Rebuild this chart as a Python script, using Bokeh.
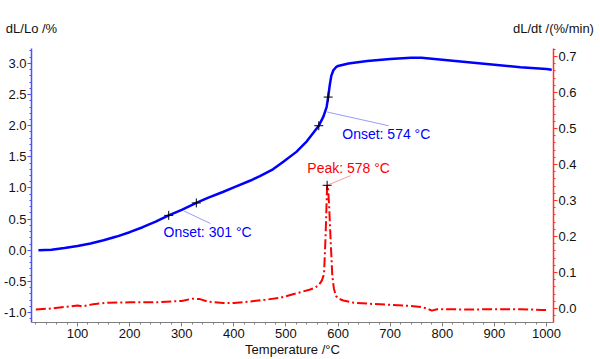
from bokeh.plotting import figure
from bokeh.models import Range1d, LinearAxis, Label, FixedTicker, CustomJSTickFormatter
from bokeh.embed import file_html
from bokeh.resources import INLINE

# ---- data: thermal expansion dL/Lo (%) ----
temp_dl = [25, 50, 75, 100, 125, 150, 175, 200, 225, 250, 275, 300, 328, 350, 380,
           400, 432, 450, 475, 495, 520, 540, 563, 572, 578, 581, 584, 587, 591, 596,
           600, 620, 656, 700, 740, 760, 800, 850, 900, 950, 1000, 1010]
dl_lo = [0.00, 0.01, 0.035, 0.07, 0.11, 0.16, 0.22, 0.29, 0.37, 0.46, 0.56, 0.65, 0.76, 0.84, 0.94,
         1.01, 1.12, 1.19, 1.30, 1.42, 1.58, 1.75, 2.00, 2.15, 2.30, 2.46, 2.65, 2.80, 2.89, 2.94,
         2.96, 3.00, 3.04, 3.07, 3.09, 3.09, 3.06, 3.02, 2.98, 2.94, 2.91, 2.90]

# ---- data: expansion rate dL/dt (%/min) ----
temp_rate = [20, 50, 80, 100, 110, 130, 160, 200, 250, 300, 320, 335, 350, 380, 400, 430,
             460, 490, 510, 530, 545, 555, 563, 569, 573, 576, 579, 581, 583, 586, 589, 592,
             596, 600, 610, 630, 660, 700, 740, 760, 770, 780, 790, 800, 850, 900, 950, 990, 1000]
dl_dt = [-0.003, 0.000, 0.005, 0.008, 0.006, 0.012, 0.016, 0.017, 0.017, 0.021, 0.027, 0.026,
         0.019, 0.015, 0.015, 0.019, 0.024, 0.030, 0.038, 0.046, 0.052, 0.057, 0.065, 0.078,
         0.095, 0.20, 0.342, 0.33, 0.28, 0.18, 0.09, 0.055, 0.035, 0.028, 0.022, 0.016, 0.013,
         0.010, 0.007, 0.004, 0.000, -0.006, -0.002, -0.002, -0.003, -0.002, -0.002, -0.004, -0.004]

# ---- evaluation markers ----
onset1_T = [275, 328]
onset1_v = [0.56, 0.76]
onset2_T = [563, 581]
onset2_v = [2.00, 2.46]
peak_T = [579]
peak_v = [0.342]

onset1_label = "Onset: 301 °C"
onset2_label = "Onset: 574 °C"
peak_label = "Peak: 578 °C"
x_title = "Temperature /°C"
y_title = "dL/Lo /%"
y2_title = "dL/dt /(%/min)"

x_ticks = [100, 200, 300, 400, 500, 600, 700, 800, 900, 1000]
y_ticks = [-1.0, -0.5, 0.0, 0.5, 1.0, 1.5, 2.0, 2.5, 3.0]
y2_ticks = [0.0, 0.1, 0.2, 0.3, 0.4, 0.5, 0.6, 0.7]

FONT = "Liberation Sans"
BLUE = "#0000ff"
RED = "#ff0000"
TXT = "#111111"

X0, X1 = 11.7, 1013.4

p = figure(width=600, height=359, output_backend="svg", toolbar_location=None,
           x_range=Range1d(X0, X1), y_range=Range1d(-1.16, 3.24),
           min_border_left=31, min_border_right=47, min_border_top=48, min_border_bottom=37)
p.extra_y_ranges = {"rate": Range1d(-0.039, 0.722)}
p.outline_line_color = None
p.xgrid.visible = False
p.ygrid.visible = False
p.background_fill_color = "white"
p.border_fill_color = "white"

def style_axis(ax, color, width):
    ax.axis_line_color = color
    ax.axis_line_width = width
    ax.major_tick_line_color = color
    ax.minor_tick_line_color = color
    ax.major_tick_in = 0
    ax.major_tick_out = 4
    ax.minor_tick_in = 0
    ax.minor_tick_out = 2
    ax.major_label_text_font = FONT
    ax.major_label_text_font_size = "13px"
    ax.major_label_text_color = TXT
    ax.major_label_standoff = 1

fmt1 = "return tick.toFixed(1);"

xa = p.xaxis[0]
style_axis(xa, "#7f7f7f", 1)
xa.ticker = FixedTicker(ticks=x_ticks, minor_ticks=list(range(20, 1001, 20)))
xa.major_label_standoff = 2
xa.axis_label = x_title
xa.axis_label_text_font = FONT
xa.axis_label_text_font_size = "13px"
xa.axis_label_text_font_style = "normal"
xa.axis_label_text_color = TXT
xa.axis_label_standoff = 1

ya = p.yaxis[0]
style_axis(ya, "#5050ff", 1.5)
ya.ticker = FixedTicker(ticks=y_ticks, minor_ticks=[round(-1.1 + 0.1 * i, 1) for i in range(44)])
ya.formatter = CustomJSTickFormatter(code=fmt1)

ya2 = LinearAxis(y_range_name="rate")
style_axis(ya2, "#ff3030", 1.5)
ya2.ticker = FixedTicker(ticks=y2_ticks, minor_ticks=[round(-0.02 + 0.02 * i, 2) for i in range(38)])
ya2.formatter = CustomJSTickFormatter(code=fmt1)
p.add_layout(ya2, "right")

# unit labels above the two y axes (tick labels of an invisible top axis)
top = LinearAxis(ticker=FixedTicker(ticks=[X0, X1]),
                 formatter=CustomJSTickFormatter(
                     args=dict(a=y_title, b=y2_title),
                     code="return index == 0 ? a : b;"))
top.axis_line_color = None
top.major_tick_line_color = None
top.minor_tick_line_color = None
top.major_tick_out = 0
top.major_tick_in = 0
top.major_label_standoff = 13
top.major_label_text_font = FONT
top.major_label_text_font_size = "13px"
top.major_label_text_color = TXT
p.add_layout(top, "above")

# curves
p.line(temp_dl, dl_lo, line_color=BLUE, line_width=2.5)
p.line(temp_rate, dl_dt, line_color=RED, line_width=2, line_dash="10 3 2 3",
       y_range_name="rate")

# leader lines (from evaluation point to label)
p.segment(x0=[(onset1_T[0] + onset1_T[1]) / 2 + 3], y0=[(onset1_v[0] + onset1_v[1]) / 2 - 0.03],
          x1=[355], y1=[0.43], line_color="#9a9aff", line_width=1)
p.segment(x0=[onset2_T[1] - 2], y0=[2.22], x1=[697], y1=[2.0], line_color="#9a9aff", line_width=1)
p.segment(x0=peak_T, y0=peak_v, x1=[624], y1=[0.369], line_color="#ff9a9a", line_width=1,
          y_range_name="rate")

# markers
p.scatter(onset1_T + onset2_T, onset1_v + onset2_v, marker="cross", size=9,
          line_color="black", line_width=1)
p.scatter(peak_T, peak_v, marker="cross", size=9, line_color="black", line_width=1,
          y_range_name="rate")

# annotation texts
p.add_layout(Label(x=265, y=0.29, text=onset1_label, text_color=BLUE, text_font=FONT,
                   text_font_size="14px", text_baseline="middle"))
p.add_layout(Label(x=608, y=1.87, text=onset2_label, text_color=BLUE, text_font=FONT,
                   text_font_size="14px", text_baseline="middle"))
p.add_layout(Label(x=541, y=0.39, y_range_name="rate", text=peak_label, text_color=RED,
                   text_font=FONT, text_font_size="14px", text_baseline="middle"))

open("out.html", "w").write(file_html(p, INLINE))
